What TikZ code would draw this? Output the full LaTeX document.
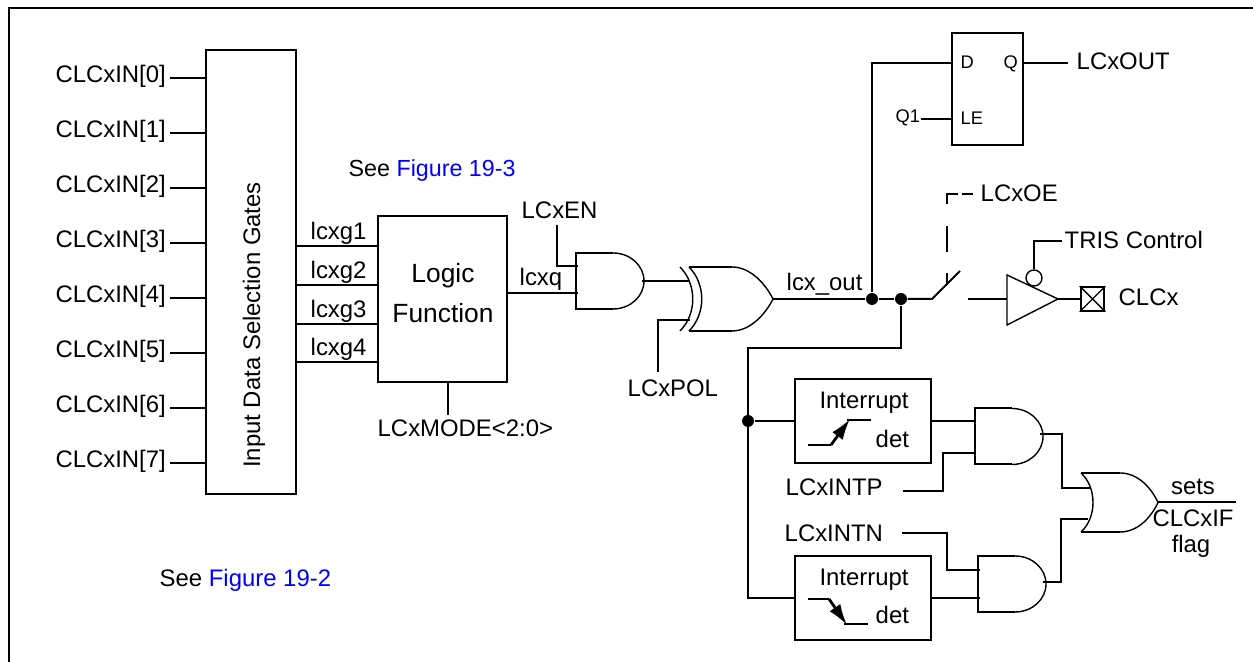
\documentclass[tikz,border=0pt]{standalone}
\usepackage{fontspec}
\setmainfont{Liberation Sans}
\usetikzlibrary{arrows.meta}
\definecolor{linkblue}{RGB}{0,0,255}
\tikzset{
	wire/.style={line width=0.57pt},
	hair/.style={line width=0.4pt},
	edgeline/.style={line width=0.8pt},
	lbl/.style={inner sep=0pt, font=\fontsize{6.8}{8.2}\selectfont},
	seelbl/.style={inner sep=0pt, font=\fontsize{6.62}{8}\selectfont},
	biglbl/.style={inner sep=0pt, font=\fontsize{7.5}{9}\selectfont},
	small/.style={inner sep=0pt, font=\fontsize{5.2}{6}\selectfont},
	blockbox/.style={draw, line width=0.6pt, inner sep=0pt},
	dot/.style={circle, fill, inner sep=0pt, minimum size=0.12cm},
	andgate/.pic={
		\draw[wire] (0.37, 0.28) -- (0, 0.28) -- (0, -0.28) -- (0.37, -0.28);
		\draw[hair] (0.37, 0.28) arc[start angle=90, end angle=-90, x radius=0.31, y radius=0.28];
	},
	orgate/.pic={
		\draw[wire] (0, 0.295) -- (0.39, 0.295);
		\draw[wire] (0, -0.295) -- (0.39, -0.295);
		\draw[hair] (0, 0.295) .. controls (0.16, 0.15) and (0.16, -0.15) .. (0, -0.295);
		\draw[hair] (0.39, 0.295) .. controls (0.58, 0.295) and (0.71, 0.13) .. (0.77, 0);
		\draw[hair] (0.39, -0.295) .. controls (0.58, -0.295) and (0.71, -0.13) .. (0.77, 0);
	},
	xorgate/.pic={
		\draw[wire] (0, 0.32) -- (0.43, 0.32);
		\draw[wire] (0, -0.32) -- (0.43, -0.32);
		\draw[hair] (0, 0.32) .. controls (0.17, 0.15) and (0.17, -0.15) .. (0, -0.32);
		\draw[hair] (-0.09, 0.32) .. controls (0.08, 0.15) and (0.08, -0.15) .. (-0.09, -0.32);
		\draw[hair] (0.43, 0.32) .. controls (0.62, 0.32) and (0.77, 0.14) .. (0.84, 0);
		\draw[hair] (0.43, -0.32) .. controls (0.62, -0.32) and (0.77, -0.14) .. (0.84, 0);
	}
}
\begin{document}
\begin{tikzpicture}
	\useasboundingbox (0, 0) rectangle (12.53, 6.62);
	\draw[line width=0.65pt] (0.09, 0) -- (0.09, 6.54) -- (12.53, 6.54);

	\node[blockbox, minimum width=0.9cm, minimum height=4.44cm] (gates) at (2.51, 3.90) {};
	\node[lbl, rotate=90, anchor=base] (gatestext) at (2.60, 3.37) {Input Data Selection Gates};
	\foreach \n in {0, ..., 7} {
		\pgfmathsetmacro{\y}{5.84 - 0.55*\n}
		\coordinate (pin\n) at (1.70, \y);
		\node[lbl, anchor=base east] (in\n) at (1.665, \y - 0.05) {CLCxIN[\n]};
		\draw[wire] (pin\n) -- (pin\n -| gates.west);
	}
	\node[lbl, anchor=base west] (see2) at (1.59, 0.75) {See \textcolor{linkblue}{Figure 19-2}};
	\node[seelbl, anchor=base west] (see3) at (3.48, 4.85) {See \textcolor{linkblue}{Figure 19-3}};

	\node[blockbox, minimum width=1.29cm, minimum height=1.66cm] (logic) at (4.425, 3.63) {};
	\node[biglbl, anchor=base] (logictext) at (4.43, 3.79) {Logic};
	\node[biglbl, anchor=base] (functext) at (4.43, 3.39) {Function};
	\foreach \n/\y in {1/4.16, 2/3.77, 3/3.38, 4/3.00} {
		\draw[wire] (gates.east |- 0, \y) -- (logic.west |- 0, \y);
		\node[lbl, anchor=base west] (lcxg\n) at (3.10, \y + 0.06) {lcxg\n};
	}
	\coordinate (modepin) at (4.48, 2.47);
	\draw[wire] (modepin |- logic.south) -- (modepin);
	\node[lbl, anchor=base west] (mode) at (3.77, 2.25) {LCxMODE<2:0>};

	\pic (and1) at (5.76, 3.81) {andgate};
	\pic (xor1) at (6.89, 3.63) {xorgate};
	\coordinate (enpin) at (5.57, 4.37);
	\coordinate (and1a) at (5.78, 3.96);
	\coordinate (and1b) at (5.78, 3.69);
	\coordinate (and1q) at (6.42, 3.81);
	\coordinate (xora) at (6.90, 3.81);
	\coordinate (xorb) at (6.90, 3.42);
	\coordinate (polpin) at (6.58, 2.90);
	\coordinate (xorq) at (7.73, 3.63);
	\node[lbl, anchor=base west] (en) at (5.21, 4.43) {LCxEN};
	\node[lbl, anchor=base west] (lcxq) at (5.19, 3.76) {lcxq};
	\node[lbl, anchor=base west] (pol) at (6.27, 2.65) {LCxPOL};
	\draw[wire] (enpin) |- (and1a);
	\draw[wire] (logic.east |- and1b) -- (and1b);
	\draw[wire] (and1q) -- (xora);
	\draw[wire] (polpin) |- (xorb);

	\node[dot] (dotq) at (8.72, 3.63) {};
	\node[dot] (dotbr) at (9.01, 3.63) {};
	\node[lbl, anchor=base west] (lcxout) at (7.86, 3.71) {lcx\_out};
	\draw[wire] (xorq) -- (dotq) -- (dotbr);

	\node[blockbox, minimum width=0.71cm, minimum height=1.12cm] (latch) at (9.875, 5.73) {};
	\coordinate (dpin) at (9.52, 5.99);
	\coordinate (lepin) at (9.21, 5.43);
	\coordinate (qpin) at (10.68, 5.99);
	\node[small, anchor=base west] (dlbl) at (9.60, 5.93) {D};
	\node[small, anchor=base west] (qlbl) at (10.03, 5.93) {Q};
	\node[small, anchor=base west] (lelbl) at (9.60, 5.37) {LE};
	\node[small, anchor=base west] (q1lbl) at (8.95, 5.39) {Q1};
	\node[lbl, anchor=base west] (outlbl) at (10.76, 5.92) {LCxOUT};
	\draw[wire] (dotq) |- (dpin);
	\draw[wire] (lepin) -- (lepin -| latch.west);
	\draw[wire] (qpin -| latch.east) -- (qpin);

	\coordinate (swb) at (9.60, 3.91);
	\coordinate (swc) at (9.68, 3.63);
	\coordinate (swa) at (9.32, 3.63);
	\coordinate (dashlow) at (9.47, 3.77);
	\coordinate (oepin) at (9.73, 4.68);
	\node[lbl, anchor=base west] (oe) at (9.80, 4.60) {LCxOE};
	\draw[wire] (dotbr) -- (swa) -- (swb);
	\draw[wire, dash pattern=on 0.12cm off 0.21cm on 0.26cm off 0.22cm on 0.21cm off 0.04cm on 0.12cm] (dashlow) |- (oepin);

	\coordinate (bufin) at (10.07, 3.63);
	\coordinate (bufout) at (10.58, 3.63);
	\draw[hair] (10.07, 3.87) -- (bufout) -- (10.07, 3.37) -- cycle;
	\node[draw, hair, circle, inner sep=0pt, minimum size=0.16cm] (bubble) at (10.34, 3.84) {};
	\coordinate (trispin) at (10.62, 4.21);
	\node[lbl, anchor=base west] (tris) at (10.64, 4.13) {TRIS Control};
	\node[blockbox, minimum size=0.235cm] (pad) at (10.925, 3.63) {};
	\node[lbl, anchor=base west] (clcx) at (11.18, 3.56) {CLCx};
	\draw[wire] (swc) -- (bufin);
	\draw[wire] (bubble.north) |- (trispin);
	\draw[wire] (bufout) -- (pad.west);
	\draw[hair] (pad.north west) -- (pad.south east);
	\draw[hair] (pad.south west) -- (pad.north east);

	\node[blockbox, minimum width=1.36cm, minimum height=0.84cm] (intup) at (8.63, 2.41) {};
	\node[blockbox, minimum width=1.36cm, minimum height=0.84cm] (intdn) at (8.63, 0.64) {};
	\node[lbl, anchor=base] (intuptext) at (8.64, 2.53) {Interrupt};
	\node[lbl, anchor=base] (intdntext) at (8.64, 0.76) {Interrupt};
	\node[lbl, anchor=base west] (detup) at (8.75, 2.14) {det};
	\node[lbl, anchor=base west] (detdn) at (8.75, 0.38) {det};
	\node[dot] (dotint) at (7.48, 2.41) {};
	\coordinate (intcorner) at (7.48, 3.14);
	\draw[wire] (dotbr) |- (intcorner) |- (intdn.west);
	\draw[wire] (dotint) -- (intup.west);

	\draw[edgeline, -{Latex[length=0.21cm, width=0.13cm]}] (8.31, 2.17) -- (8.50, 2.43);
	\draw[edgeline] (8.08, 2.17) -- (8.31, 2.17);
	\draw[edgeline] (8.47, 2.42) -- (8.71, 2.42);
	\draw[edgeline, -{Latex[length=0.21cm, width=0.13cm]}] (8.29, 0.63) -- (8.47, 0.37);
	\draw[edgeline] (8.08, 0.63) -- (8.29, 0.63);
	\draw[edgeline] (8.44, 0.38) -- (8.68, 0.38);

	\pic (and2) at (9.75, 2.255) {andgate};
	\pic (and3) at (9.78, 0.78) {andgate};
	\pic (or1) at (10.81, 1.595) {orgate};
	\coordinate (and2a) at (9.75, 2.41);
	\coordinate (and2b) at (9.75, 2.09);
	\coordinate (intpcorner) at (9.43, 2.09);
	\coordinate (intppin) at (9.03, 1.71);
	\coordinate (and2q) at (10.40, 2.28);
	\coordinate (or1corner) at (10.62, 1.74);
	\coordinate (ora) at (10.90, 1.74);
	\coordinate (and3a) at (9.80, 0.92);
	\coordinate (and3b) at (9.80, 0.64);
	\coordinate (intncorner) at (9.47, 0.92);
	\coordinate (intnpin) at (9.02, 1.29);
	\coordinate (and3q) at (10.43, 0.80);
	\coordinate (or2corner) at (10.61, 1.43);
	\coordinate (orb) at (10.88, 1.43);
	\coordinate (orq) at (11.58, 1.60);
	\coordinate (flagpin) at (12.36, 1.60);
	\node[lbl, anchor=base west] (intp) at (7.85, 1.66) {LCxINTP};
	\node[lbl, anchor=base west] (intn) at (7.84, 1.20) {LCxINTN};
	\node[lbl, anchor=base] (sets) at (11.93, 1.67) {sets};
	\node[lbl, anchor=base] (clcxif) at (11.93, 1.35) {CLCxIF};
	\node[lbl, anchor=base] (flag) at (11.91, 1.09) {flag};
	\draw[wire] (intup.east) -- (and2a);
	\draw[wire] (intppin) -| (intpcorner) -- (and2b);
	\draw[wire] (and2q) -| (or1corner) -- (ora);
	\draw[wire] (intnpin) -| (intncorner) -- (and3a);
	\draw[wire] (intdn.east) -- (and3b);
	\draw[wire] (and3q) -| (or2corner) -- (orb);
	\draw[wire] (orq) -- (flagpin);
\end{tikzpicture}
\end{document}
